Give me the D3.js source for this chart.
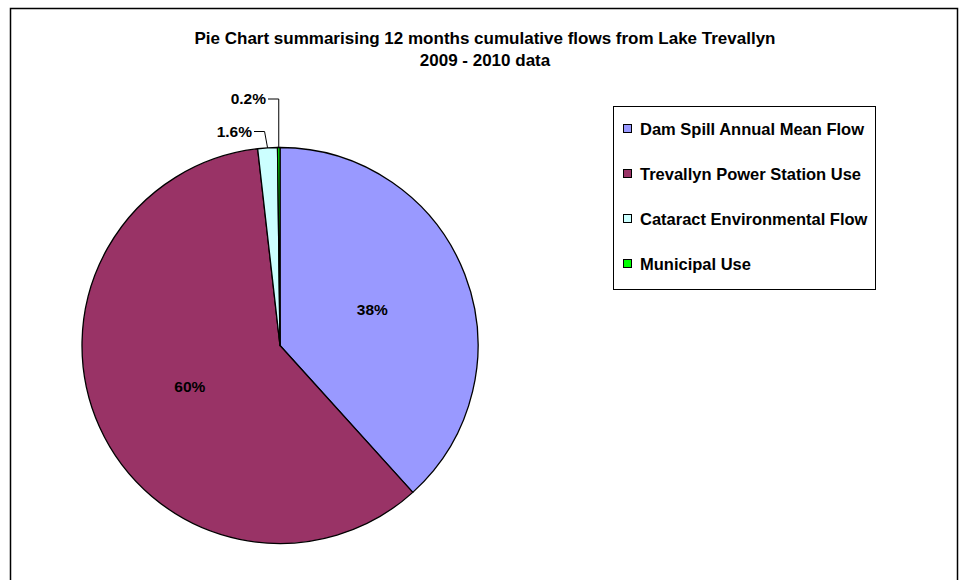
<!DOCTYPE html>
<html>
<head>
<meta charset="utf-8">
<script src="https://cdn.jsdelivr.net/npm/d3@7"></script>
<style>
  body { margin: 0; background: #fff; }
  svg { display: block; font-family: "Liberation Sans", Arial, sans-serif; }
</style>
</head>
<body>
<svg width="961" height="580"></svg>
<script>
// data
var categories = ["Dam Spill Annual Mean Flow", "Trevallyn Power Station Use", "Cataract Environmental Flow", "Municipal Use"];
var values = [38.3, 59.9, 1.6, 0.2];
var labels = ["38%", "60%", "1.6%", "0.2%"];
var colours = ["#9999ff", "#993366", "#ccffff", "#00ff00"];

var svg = d3.select("svg");

// chart border
svg.append("rect")
  .attr("x", 10.5).attr("y", 8.5)
  .attr("width", 947).attr("height", 600)
  .attr("fill", "#fff")
  .attr("stroke", "#000")
  .attr("stroke-width", 1.5);

// title
svg.append("text")
  .attr("x", 485).attr("y", 44)
  .attr("text-anchor", "middle")
  .attr("font-size", 17).attr("font-weight", "bold")
  .text("Pie Chart summarising 12 months cumulative flows from Lake Trevallyn");
svg.append("text")
  .attr("x", 485).attr("y", 66)
  .attr("text-anchor", "middle")
  .attr("font-size", 17).attr("font-weight", "bold")
  .text("2009 - 2010 data");

var cx = 280, cy = 345.5, r = 198;

var pie = d3.pie().sort(null).value(function (d) { return d; });
var arcs = pie(values);
var arc = d3.arc().innerRadius(0).outerRadius(r);

var g = svg.append("g").attr("transform", "translate(" + cx + "," + cy + ")");

g.selectAll("path")
  .data(arcs)
  .enter()
  .append("path")
  .attr("d", arc)
  .attr("fill", function (d, i) { return colours[i]; })
  .attr("stroke", "#000")
  .attr("stroke-width", 1.3)
  .attr("stroke-linejoin", "round");

// labels inside the big slices
var inner = d3.arc().innerRadius(r * 0.5).outerRadius(r * 0.5);
g.selectAll("text.inlabel")
  .data(arcs.slice(0, 2))
  .enter()
  .append("text")
  .attr("class", "inlabel")
  .attr("transform", function (d) { return "translate(" + inner.centroid(d) + ")"; })
  .attr("text-anchor", "middle")
  .attr("dy", "0.35em")
  .attr("font-size", 15.5).attr("font-weight", "bold")
  .text(function (d, i) { return labels[i]; });

// outside labels with leader lines for the thin slices
var outside = [
  { i: 2, ty: -214, tx: -28 },
  { i: 3, ty: -246.5, tx: -14 }
];
outside.forEach(function (o) {
  var a = arcs[o.i];
  var mid = (a.startAngle + a.endAngle) / 2;
  var ex = Math.sin(mid) * r, ey = -Math.cos(mid) * r;
  var elbowX = ex + (o.i === 2 ? -3 : 0);
  g.append("path")
    .attr("d", "M" + ex + "," + ey + "L" + elbowX + "," + o.ty + "L" + (o.tx + 2) + "," + o.ty)
    .attr("fill", "none")
    .attr("stroke", "#000")
    .attr("stroke-width", 1);
  g.append("text")
    .attr("x", o.tx).attr("y", o.ty)
    .attr("dy", "0.35em")
    .attr("text-anchor", "end")
    .attr("font-size", 15.5).attr("font-weight", "bold")
    .text(labels[o.i]);
});

// legend
var legend = svg.append("g");
legend.append("rect")
  .attr("x", 613.5).attr("y", 106.5)
  .attr("width", 262).attr("height", 183)
  .attr("fill", "#fff")
  .attr("stroke", "#000")
  .attr("stroke-width", 1);

var rows = legend.selectAll("g.item")
  .data(categories)
  .enter()
  .append("g")
  .attr("class", "item")
  .attr("transform", function (d, i) { return "translate(623," + (129 + i * 45) + ")"; });

rows.append("rect")
  .attr("x", 0.5).attr("y", -4.5)
  .attr("width", 8).attr("height", 8)
  .attr("fill", function (d, i) { return colours[i]; })
  .attr("stroke", "#000")
  .attr("stroke-width", 1);

rows.append("text")
  .attr("x", 17)
  .attr("dy", "0.35em")
  .attr("font-size", 16.5).attr("font-weight", "bold")
  .text(function (d) { return d; });
</script>
</body>
</html>
